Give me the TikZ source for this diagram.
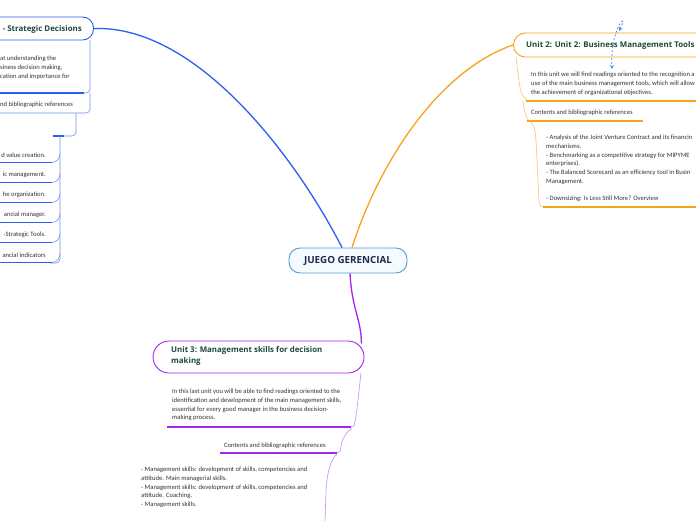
\documentclass[tikz,border=0pt]{standalone}
\usepackage{fontspec}
\setmainfont{Carlito}
\newfontfamily\titlef{Open Sans}
\usetikzlibrary{arrows.meta}
\definecolor{cblue}{HTML}{2B5FF2}
\definecolor{cbluel}{HTML}{6F92F2}
\definecolor{corange}{HTML}{F9A21B}
\definecolor{corangel}{HTML}{F8C37A}
\definecolor{cpurple}{HTML}{A226F0}
\definecolor{cpurplel}{HTML}{C98AF5}
\definecolor{cborder}{HTML}{4F9BD6}
\definecolor{cfill}{HTML}{F5FAFE}
\definecolor{cnavy}{HTML}{1F2A4D}
\definecolor{cgreen}{HTML}{1D4A3A}
\definecolor{ctext}{HTML}{333333}
\definecolor{cdash}{HTML}{4A90E2}
\begin{document}
\begin{tikzpicture}[x=1pt,y=-1pt,
  bodytext/.style={text=ctext,font=\fontsize{6.6}{8.7}\selectfont,align=left,inner sep=0pt},
  titletext/.style={text=cgreen,font=\titlef\bfseries\fontsize{7.9}{11}\selectfont,align=left,inner sep=0pt},
  pill/.style={draw,fill=white,line width=0.9pt,inner sep=0pt},
  branch/.style={line width=1.3pt},
  thin/.style={line width=0.6pt,rounded corners=4pt},
  under/.style={line width=1.2pt}]
\useasboundingbox (0,0) rectangle (696,520);
\fill[white] (0,0) rectangle (696,520);

% ---------- central ----------
\node[draw=cborder,fill=cfill,line width=0.9pt,rounded corners=11pt,minimum width=118pt,minimum height=25pt,
      text=cnavy,font=\titlef\bfseries\fontsize{9.8}{10}\selectfont] (root) at (348,260.5) {JUEGO GERENCIAL};

% ---------- unit 1 ----------
\node[pill,draw=cblue,rounded corners=11pt,minimum width=134pt,minimum height=23pt,anchor=east] (u1) at (94,28.5) {};
\node[titletext,anchor=east] (u1t) at (82,29) {- Strategic Decisions};
\draw[cblue,branch] ([xshift=-6pt]root.north) .. controls (300,165) and (200,25) .. (u1.east);

\draw[cbluel,thin] (90,40) -- (90,93) -- (80,93);
\draw[cblue,under] (0,93) -- (84,93);
\node[bodytext,anchor=north west] (u1d) at (0,56) {at understanding the\\siness decision making,\\cation and importance for};

\draw[cbluel,thin] (90,93) -- (90,113) -- (0,113);
\node[bodytext,anchor=west] (u1c) at (0,105) {nd bibliographic references};

\draw[cbluel,thin] (76,113) -- (76,136) -- (62,136);
\draw[cblue,under] (53,136) -- (64,136);

\coordinate (vtop) at (60,136);
\draw[cbluel,line width=0.6pt,rounded corners=4pt] (vtop) -- (60,263) -- (50,263);
\foreach \yy/\tt [count=\i] in {162.5/{d value creation.},182.5/{ic management.},202.5/{he organization.},222.5/{ancial manager.},242.5/{-Strategic Tools.},262.5/{ancial indicators}}{
  \draw[cblue,under] (0,\yy) -- (52,\yy);
  \draw[cbluel,line width=0.6pt] (60,\yy-9) to[out=-90,in=0] (52,\yy);
  \node[bodytext,anchor=east] (l1\i) at (46,\yy-7.5) {\tt};
}

% ---------- unit 2 ----------
\node[pill,draw=corange,rounded corners=12pt,minimum width=207pt,minimum height=24pt,anchor=west] (u2) at (513,45) {};
\node[titletext,anchor=west] (u2t) at (526,45.5) {Unit 2: Unit 2: Business Management Tools};
\draw[corange,branch] ([xshift=4pt]root.north) .. controls (380,160) and (440,70) .. (u2.west);

\coordinate (d1) at (619,31);
\coordinate (d2) at (612,69);
\draw[cdash,line width=0.8pt,dash pattern=on 2pt off 2pt,{Stealth[length=4pt,width=4pt]}-{Stealth[length=4pt,width=4pt]}]
  (d1) .. controls (630,10) and (610,26) .. (d2);

\draw[corangel,thin] (516,57) .. controls (518,75) and (520,90) .. (523,97) -- (528,101);
\draw[corange,under] (526,101) -- (700,101);
\node[bodytext,anchor=north west] (u2d) at (531,72) {In this unit we will find readings oriented to the recognition a\\use of the main business management tools, which will allow\\the achievement of organizational objectives.};

\draw[corangel,thin] (523,101) .. controls (524,110) and (525,116) .. (529,121);
\draw[corange,under] (527,121) -- (643,121);
\node[bodytext,anchor=west] (u2c) at (531,113) {Contents and bibliographic references};

\draw[corangel,thin] (530,121) .. controls (534,125) and (535,130) .. (536,140) -- (539,202) .. controls (540,206) .. (545,207);
\draw[corange,under] (543,207) -- (700,207);
\node[bodytext,anchor=north west] (u2l) at (546,135) {- Analysis of the Joint Venture Contract and its financin\\mechanisms.\\- Benchmarking as a competitive strategy for MIPYME\\enterprises).\\- The Balanced Scorecard as an efficiency tool in Busin\\Management.\\[8.7pt]- Downsizing: Is Less Still More? Overview};

% ---------- unit 3 ----------
\node[pill,draw=cpurple,rounded corners=16pt,minimum width=211pt,minimum height=32pt] (u3) at (258.5,357) {};
\node[titletext,anchor=north west] (u3t) at (171,346) {Unit 3: Management skills for decision\\making};
\draw[cpurple,branch] ([xshift=2pt]root.south) .. controls (352,310) and (361,318) .. ([xshift=-3pt,yshift=-3pt]u3.north east);

\draw[cpurplel,thin] (361,373) .. controls (359,390) and (357,410) .. (355,422) .. controls (354,426) .. (349,427);
\draw[cpurple,under] (167,427) -- (351,427);
\node[bodytext,anchor=north west] (u3d) at (172,389) {In this last unit you will be able to find readings oriented to the\\identification and development of the main management skills,\\essential for every good manager in the business decision-\\making process.};

\draw[cpurplel,thin] (352,428) .. controls (346,432) and (342,440) .. (341,447) .. controls (340,452) .. (335,453);
\draw[cpurple,under] (220,453) -- (337,453);
\node[bodytext,anchor=west] (u3c) at (224,446) {Contents and bibliographic references};

\draw[cpurplel,line width=0.6pt] (337,454) .. controls (330,460) and (327,475) .. (326,490) -- (325,522);
\node[bodytext,anchor=north west] (u3l) at (141,467) {- Management skills: development of skills, competencies and\\attitude. Main managerial skills.\\- Management skills: development of skills, competencies and\\attitude. Coaching.\\- Management skills.};
\end{tikzpicture}
\end{document}
